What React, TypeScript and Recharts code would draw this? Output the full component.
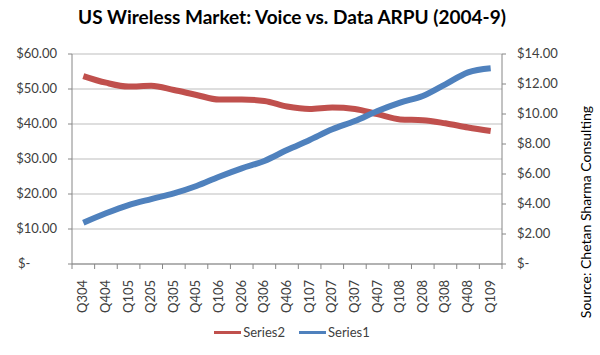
import { LineChart, Line, XAxis, YAxis, CartesianGrid, Legend } from 'recharts';

const quarters = [
  'Q304', 'Q404', 'Q105', 'Q205', 'Q305', 'Q405', 'Q106', 'Q206', 'Q306', 'Q406',
  'Q107', 'Q207', 'Q307', 'Q407', 'Q108', 'Q208', 'Q308', 'Q408', 'Q109',
];

// voice ARPU, left axis
const series2 = [
  53.7, 51.8, 50.7, 50.9, 49.7, 48.3, 47.0, 47.0, 46.6, 45.0,
  44.3, 44.7, 44.3, 42.8, 41.3, 41.1, 40.2, 39.0, 38.0,
];

// data ARPU, right axis
const series1 = [
  2.75, 3.38, 3.93, 4.33, 4.71, 5.2, 5.82, 6.38, 6.87, 7.6,
  8.27, 8.98, 9.53, 10.2, 10.76, 11.2, 11.98, 12.78, 13.05,
];

const leftTicks = [0, 10, 20, 30, 40, 50, 60];
const rightTicks = [0, 2, 4, 6, 8, 10, 12, 14];

const data = quarters.map((q, i) => ({ q, Series2: series2[i], Series1: series1[i] }));

const FONT = 'Lato, "Open Sans", sans-serif';
const AXIS = '#868686';
const TEXT = '#404040';

const W = 600;
const H = 355;
const PLOT_LEFT = 72;
const PLOT_RIGHT = 502;
const band = (PLOT_RIGHT - PLOT_LEFT) / quarters.length;

const LeftTick = (props: any) => {
  const { x, y, payload } = props;
  const v = payload.value as number;
  if (v === 0) {
    return (
      <text x={x - 39} y={y} dy={4} textAnchor="start" fill={TEXT} fontSize={13} fontFamily={FONT}>
        $-
      </text>
    );
  }
  return (
    <text x={x} y={y} dy={4} textAnchor="end" fill={TEXT} fontSize={13} fontFamily={FONT}>
      {'$' + v.toFixed(2)}
    </text>
  );
};

const RightTick = (props: any) => {
  const { x, y, payload } = props;
  const v = payload.value as number;
  return (
    <text x={x} y={y} dy={4} textAnchor="start" fill={TEXT} fontSize={13} fontFamily={FONT}>
      {v === 0 ? '$-' : '$' + v.toFixed(2)}
    </text>
  );
};

const QuarterTick = (props: any) => {
  const { x, y, payload, index } = props;
  const top = y - 8;
  return (
    <g>
      <line x1={x - band / 2} x2={x - band / 2} y1={top} y2={top + 5} stroke={AXIS} />
      {index === quarters.length - 1 && (
        <line x1={x + band / 2} x2={x + band / 2} y1={top} y2={top + 5} stroke={AXIS} />
      )}
      <text
        x={0}
        y={0}
        transform={`translate(${x + 4},${top + 16}) rotate(-90)`}
        textAnchor="end"
        fill={TEXT}
        fontSize={13}
        fontFamily={FONT}
      >
        {payload.value}
      </text>
    </g>
  );
};

const legendItems = [
  { name: 'Series2', color: '#C0504D' },
  { name: 'Series1', color: '#4F81BD' },
];

const LegendContent = () => (
  <div style={{ display: 'flex', justifyContent: 'center', alignItems: 'center', gap: 14 }}>
    {legendItems.map((it) => (
      <div key={it.name} style={{ display: 'flex', alignItems: 'center' }}>
        <span style={{ display: 'inline-block', width: 27, height: 3, background: it.color, marginRight: 2 }} />
        <span style={{ fontFamily: FONT, fontSize: 13, color: TEXT }}>{it.name}</span>
      </div>
    ))}
  </div>
);

export default function App() {
  return (
    <div style={{ position: 'absolute', left: 0, top: 0, width: W, height: H, background: '#fff' }}>
      <div
        style={{
          position: 'absolute',
          left: 0,
          top: 5,
          width: 584,
          textAlign: 'center',
          fontFamily: FONT,
          fontWeight: 'bold',
          fontSize: 19,
          color: '#000',
        }}
      >
        US Wireless Market: Voice vs. Data ARPU (2004-9)
      </div>
      <div
        style={{
          position: 'absolute',
          left: 585,
          top: 212,
          transform: 'translate(-50%, -50%) rotate(-90deg)',
          whiteSpace: 'nowrap',
          fontFamily: FONT,
          fontSize: 14,
          color: '#000',
        }}
      >
        Source: Chetan Sharma Consulting
      </div>
      <LineChart
        width={W}
        height={H}
        data={data}
        margin={{ top: 54, right: 38, bottom: 41, left: 0 }}
      >
        <CartesianGrid yAxisId="left" vertical={false} stroke="#bdbdbd" />
        <XAxis
          dataKey="q"
          scale="band"
          height={50}
          stroke={AXIS}
          tickLine={false}
          interval={0}
          tick={<QuarterTick />}
        />
        <YAxis
          yAxisId="left"
          orientation="left"
          width={72}
          domain={[0, 60]}
          ticks={leftTicks}
          stroke={AXIS}
          tickSize={4}
          tickMargin={11}
          tick={<LeftTick />}
        />
        <YAxis
          yAxisId="right"
          orientation="right"
          width={60}
          domain={[0, 14]}
          ticks={rightTicks}
          stroke={AXIS}
          tickSize={4}
          tickMargin={11}
          tick={<RightTick />}
        />
        <Legend
          verticalAlign="middle"
          align="center"
          layout="horizontal"
          wrapperStyle={{ top: 324, left: 0, width: 584 }}
          content={<LegendContent />}
        />
        <Line
          yAxisId="left"
          type="monotone"
          dataKey="Series2"
          stroke="#C0504D"
          strokeWidth={6}
          dot={false}
          isAnimationActive={false}
        />
        <Line
          yAxisId="right"
          type="monotone"
          dataKey="Series1"
          stroke="#4F81BD"
          strokeWidth={6}
          dot={false}
          isAnimationActive={false}
        />
      </LineChart>
    </div>
  );
}
